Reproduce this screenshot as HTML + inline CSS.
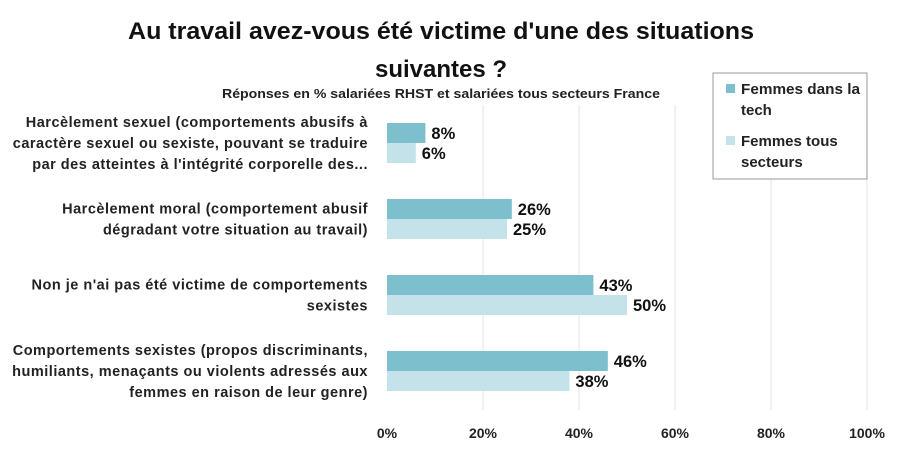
<!DOCTYPE html>
<html><head><meta charset="utf-8"><style>
body{margin:0;background:#fff;}
svg text{font-family:"Liberation Sans",sans-serif;}
</style></head><body>
<svg id="chart" width="900" height="451" xmlns="http://www.w3.org/2000/svg">
<text x="441" y="39" text-anchor="middle" font-size="24" font-weight="bold" fill="#111" textLength="626" lengthAdjust="spacingAndGlyphs">Au travail avez-vous été victime d'une des situations</text>
<text x="441" y="77" text-anchor="middle" font-size="24" font-weight="bold" fill="#111">suivantes ?</text>
<text x="441" y="98" text-anchor="middle" font-size="13" font-weight="bold" fill="#222" textLength="438" lengthAdjust="spacingAndGlyphs">Réponses en % salariées RHST et salariées tous secteurs France</text>
<g id="grid"></g><g id="bars"></g><g id="labels"></g>
<g>
<rect x="713" y="73" width="154" height="106" fill="#fff" stroke="#999"/>
<rect x="726" y="84" width="9" height="9" fill="#7DBFCD"/>
<text x="741" y="94" font-size="15" font-weight="bold" fill="#222" textLength="119" lengthAdjust="spacingAndGlyphs">Femmes dans la</text>
<text x="741" y="115" font-size="15" font-weight="bold" fill="#222">tech</text>
<rect x="726" y="136" width="9" height="9" fill="#C3E2EA"/>
<text x="741" y="146" font-size="15" font-weight="bold" fill="#222">Femmes tous</text>
<text x="741" y="167" font-size="15" font-weight="bold" fill="#222">secteurs</text>
</g>
</svg>
<script>
const categories=[
 ["Harcèlement sexuel (comportements abusifs à","caractère sexuel ou sexiste, pouvant se traduire","par des atteintes à l'intégrité corporelle des..."],
 ["Harcèlement moral (comportement abusif","dégradant votre situation au travail)"],
 ["Non je n'ai pas été victime de comportements","sexistes"],
 ["Comportements sexistes (propos discriminants,","humiliants, menaçants ou violents adressés aux","femmes en raison de leur genre)"]
];
const techValues=[8,26,43,46];
const allValues=[6,25,50,38];
const ticks=[0,20,40,60,80,100];
const NS="http://www.w3.org/2000/svg";
const x0=387,x1=867,plotTop=105,plotBot=410,groupH=76,firstGroupTop=105;
function xs(v){return x0+(x1-x0)*v/100;}
function gy(i){return firstGroupTop+i*groupH;}
function mk(tag,attrs,parent){const e=document.createElementNS(NS,tag);for(const k in attrs)e.setAttribute(k,attrs[k]);parent.appendChild(e);return e;}
const grid=document.getElementById('grid'),bars=document.getElementById('bars'),labels=document.getElementById('labels');
ticks.forEach(t=>{
 if(t>0){const l=mk('line',{x1:xs(t),x2:xs(t),y1:plotTop,y2:plotBot,stroke:'#e3e3e3','stroke-width':1},grid);
 
 }
 const tx=mk('text',{x:xs(t),y:438,'text-anchor':'middle','font-size':14,'font-weight':'bold',fill:'#222'},labels);
 tx.textContent=t+'%';
 
 
});
const bh=20;
categories.forEach((c,i)=>{
 const top=gy(i)+18;
 const b1=mk('rect',{x:x0,y:top,width:xs(techValues[i])-x0,height:bh,fill:'#7DBFCD'},bars);
 
 
 const b2=mk('rect',{x:x0,y:top+bh,width:xs(allValues[i])-x0,height:bh,fill:'#C3E2EA'},bars);
 
 
 const v1=mk('text',{x:xs(techValues[i])+6,y:top+16,'font-size':16.5,'font-weight':'bold',fill:'#111'},labels);
 v1.textContent=techValues[i]+'%';
 
 
 const v2=mk('text',{x:xs(allValues[i])+6,y:top+bh+16,'font-size':16.5,'font-weight':'bold',fill:'#111'},labels);
 v2.textContent=allValues[i]+'%';
 
 
 const mid=top+bh;const n=c.length;
 c.forEach((line,j)=>{
  const t=mk('text',{x:368,y:mid+5+(j-(n-1)/2)*21,'text-anchor':'end','font-size':14.5,'font-weight':'bold',fill:'#222','letter-spacing':'0.5'},labels);
  t.textContent=line;
  
  
 });
});
</script>
</body></html>
